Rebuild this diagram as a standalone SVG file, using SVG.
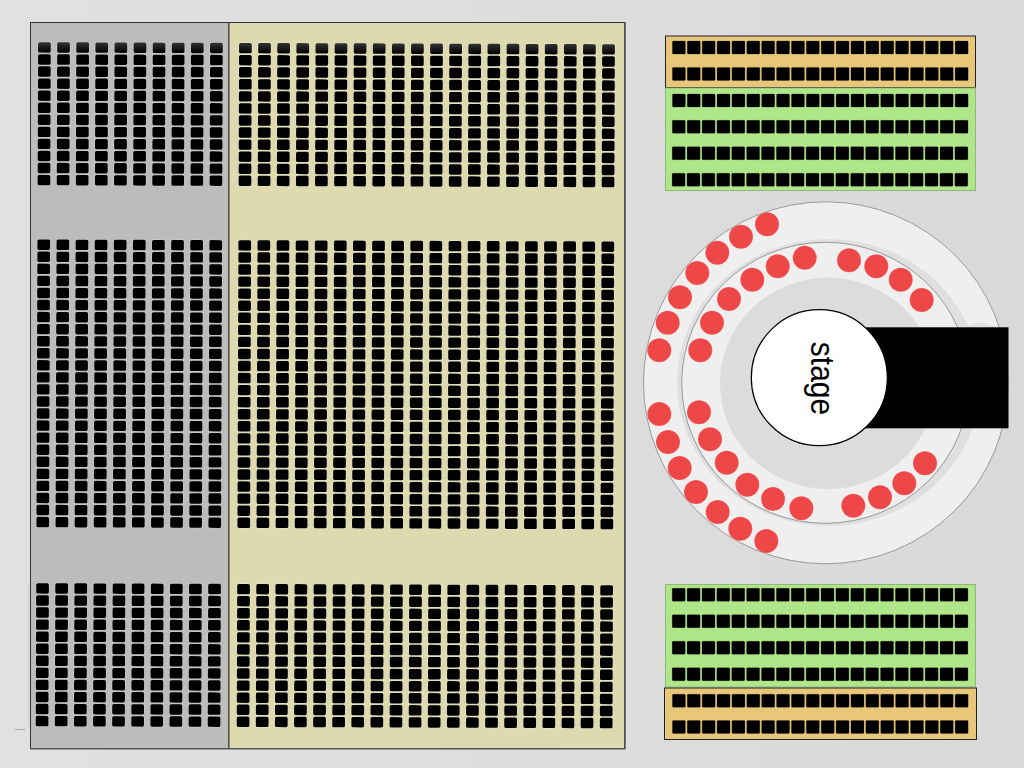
<svg xmlns="http://www.w3.org/2000/svg" width="1024" height="768" viewBox="0 0 1024 768">
<style>
.panel{stroke:#333;stroke-width:1}
.gs{fill:#000;stroke:#fff;stroke-opacity:.4;stroke-width:.8;paint-order:stroke}
.bs{fill:#000;stroke:#000;stroke-opacity:.25;stroke-width:.8;paint-order:stroke}
.ring{stroke:#999;stroke-width:1;fill:#efefef}
.r{fill:#ee4747;stroke:#fff;stroke-opacity:.25;stroke-width:.5}
</style>
<defs>
<linearGradient id="bg" x1="0" y1="0" x2="1" y2="0"><stop offset="0" stop-color="#e1e1e1"/><stop offset="1" stop-color="#d9d9d9"/></linearGradient>
<linearGradient id="top" x1="0" y1="0" x2="0" y2="1"><stop offset="0" stop-color="#333"/><stop offset="1" stop-color="#000"/></linearGradient>
<rect id="s" x="-.2" y=".2" width="12.7" height="10.4" rx="1.6"/>
<g id="c10"><use href="#s"/><use href="#s" x="19.11"/><use href="#s" x="38.22"/><use href="#s" x="57.33"/><use href="#s" x="76.44"/><use href="#s" x="95.55"/><use href="#s" x="114.66"/><use href="#s" x="133.77"/><use href="#s" x="152.88"/><use href="#s" x="171.99"/></g>
<g id="c20"><use href="#c10"/><use href="#c10" x="191.1"/></g>
<g id="b10"><use href="#c10" y="12.06"/><use href="#c10" y="24.12"/><use href="#c10" y="36.18"/><use href="#c10" y="48.24"/><use href="#c10" y="60.3"/><use href="#c10" y="72.36"/><use href="#c10" y="84.42"/><use href="#c10" y="96.48"/><use href="#c10" y="108.54"/><use href="#c10" y="120.6"/><use href="#c10" y="132.66"/></g>
<g id="f10"><use href="#c10"/><use href="#b10"/></g>
<g id="b20"><use href="#c20" y="12.06"/><use href="#c20" y="24.12"/><use href="#c20" y="36.18"/><use href="#c20" y="48.24"/><use href="#c20" y="60.3"/><use href="#c20" y="72.36"/><use href="#c20" y="84.42"/><use href="#c20" y="96.48"/><use href="#c20" y="108.54"/><use href="#c20" y="120.6"/><use href="#c20" y="132.66"/></g>
<g id="f20"><use href="#c20"/><use href="#b20"/></g>
<rect id="q" width="13" height="13" rx="1"/>
<g id="h5"><use href="#q"/><use href="#q" x="14.88"/><use href="#q" x="29.76"/><use href="#q" x="44.64"/><use href="#q" x="59.52"/></g>
<g id="h20"><use href="#h5"/><use href="#h5" x="74.4"/><use href="#h5" x="148.8"/><use href="#h5" x="223.2"/></g>
</defs>
<rect width="1024" height="768" fill="url(#bg)"/>
<rect x="28" y="583" width="1.5" height="144" fill="#d2d2d2"/>
<rect x="15" y="729" width="10" height="1" fill="#aaa"/>

<g id="section-grey">
<rect class="panel" x="30.5" y="22.5" width="198.5" height="726" fill="#bcbcbc"/>
<g class="gs" transform="rotate(0.2 38 42)">
<use href="#c10" x="38.3" y="42" fill="url(#top)"/>
<use href="#b10" x="38.3" y="42"/>
<use href="#f10" x="38.3" y="239.3"/>
<use href="#f10" x="38.3" y="383.98"/>
<use href="#f10" x="38.3" y="583"/>
</g>
</g>

<g id="section-yellow">
<rect class="panel" x="229" y="22.5" width="395.5" height="726" fill="#dddab0"/>
<g class="gs" transform="rotate(0.2 38 42)">
<use href="#c20" x="239.3" y="42" fill="url(#top)"/>
<use href="#b20" x="239.3" y="42"/>
<use href="#f20" x="239.3" y="239.3"/>
<use href="#f20" x="239.3" y="383.98"/>
<use href="#f20" x="239.3" y="583"/>
</g>
</g>
<path d="M30 748.7H625V22" fill="none" stroke="#555" stroke-width="1.5"/>

<g id="block-top">
<rect x="665.5" y="36" width="310" height="51.5" fill="#e8c77a" stroke="#222" stroke-width="1"/>
<rect x="665.5" y="88" width="310" height="102.5" fill="#b0e68a" stroke="#8fb87a" stroke-width="1"/>
<g class="bs">
<use href="#h20" x="672.4" y="41"/><use href="#h20" x="672.4" y="67.4"/>
<use href="#h20" x="672.4" y="94"/><use href="#h20" x="672.3" y="120.3"/><use href="#h20" x="672.2" y="146.7"/><use href="#h20" x="672.1" y="173.3"/>
</g>
</g>

<g id="block-bottom">
<rect x="665.5" y="584.5" width="310" height="102.5" fill="#b0e68a" stroke="#8fb87a" stroke-width="1"/>
<rect x="664.5" y="688" width="312" height="51.5" fill="#e8c77a" stroke="#222" stroke-width="1"/>
<g class="bs">
<use href="#h20" x="672.2" y="588.3"/><use href="#h20" x="672.2" y="614.7"/><use href="#h20" x="672.2" y="641.3"/><use href="#h20" x="672.2" y="667.7"/>
<use href="#h20" x="672.4" y="694.3"/><use href="#h20" x="672.4" y="720.4"/>
</g>
</g>

<g id="rings">
<ellipse class="ring" cx="825.8" cy="382.8" rx="182.3" ry="181"/>
<ellipse cx="828.7" cy="382.5" rx="151.7" ry="143.5" fill="#dfdfdf"/>
<path d="M963 329Q978 316 998 329Z" fill="#e2e2e2"/>
<ellipse class="ring" cx="825.5" cy="382.8" rx="143.8" ry="140.5"/>
<ellipse cx="827.9" cy="383.3" rx="107.9" ry="105.7" fill="#dcdcdc"/>
</g>

<g id="stage">
<rect x="840" y="327.3" width="168.5" height="101" fill="#000"/>
<circle cx="819.3" cy="377.7" r="68" fill="#fff" stroke="#000" stroke-width="1.2"/>
<text transform="translate(810.5 378.5) rotate(90) scale(1 1.08)" text-anchor="middle" font-family="'Liberation Sans',Arial,sans-serif" font-size="30" fill="#000">stage</text>
</g>

<g id="round-seats">
<circle class="r" cx="767" cy="224.3" r="12"/><circle class="r" cx="741" cy="236.7" r="12"/><circle class="r" cx="717.3" cy="252.7" r="12"/><circle class="r" cx="697.3" cy="273" r="12"/><circle class="r" cx="680" cy="297.3" r="12"/><circle class="r" cx="667.7" cy="322.7" r="12"/><circle class="r" cx="659.3" cy="350.3" r="12"/>
<circle class="r" cx="804.7" cy="257.7" r="12"/><circle class="r" cx="777.7" cy="266.3" r="12"/><circle class="r" cx="752.3" cy="279.7" r="12"/><circle class="r" cx="729" cy="299" r="12"/><circle class="r" cx="712" cy="322.7" r="12"/><circle class="r" cx="700.3" cy="350.3" r="12"/>
<circle class="r" cx="849" cy="260.3" r="12"/><circle class="r" cx="876.3" cy="266.3" r="12"/><circle class="r" cx="900.7" cy="279.7" r="12"/><circle class="r" cx="921.7" cy="300" r="12"/>
<circle class="r" cx="659.3" cy="414" r="12"/><circle class="r" cx="668" cy="442" r="12"/><circle class="r" cx="679.7" cy="468" r="12"/><circle class="r" cx="696" cy="492" r="12"/><circle class="r" cx="717.7" cy="512" r="12"/><circle class="r" cx="740.3" cy="528.7" r="12"/><circle class="r" cx="766.3" cy="541" r="12"/>
<circle class="r" cx="699" cy="412.3" r="12"/><circle class="r" cx="710" cy="439.3" r="12"/><circle class="r" cx="726.7" cy="462.7" r="12"/><circle class="r" cx="747.3" cy="484.7" r="12"/><circle class="r" cx="773" cy="499" r="12"/><circle class="r" cx="801.3" cy="508.3" r="12"/>
<circle class="r" cx="853.3" cy="505.7" r="12"/><circle class="r" cx="880" cy="497.3" r="12"/><circle class="r" cx="904.3" cy="483.3" r="12"/><circle class="r" cx="925" cy="463.3" r="12"/>
</g>
</svg>
